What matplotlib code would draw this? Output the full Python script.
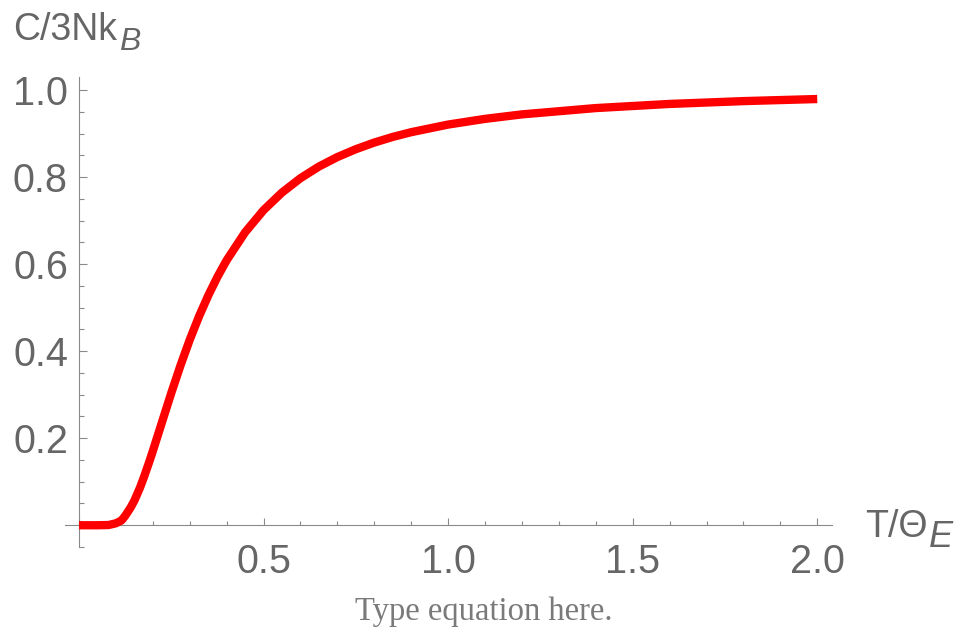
import matplotlib
matplotlib.use("Agg")
import matplotlib.pyplot as plt
from matplotlib.ticker import MultipleLocator, FixedLocator

# reduced temperature T/Theta_E and heat capacity C/3Nk_B
t_vals = [0.0, 0.05, 0.08, 0.1, 0.115, 0.125, 0.14, 0.15, 0.165, 0.175, 0.19, 0.2,
          0.225, 0.25, 0.275, 0.3, 0.325, 0.35, 0.375, 0.4, 0.45, 0.5, 0.55,
          0.6, 0.65, 0.7, 0.75, 0.8, 0.85, 0.9, 1.0, 1.1, 1.2, 1.4, 1.6, 1.8, 2.0]
c_vals = [0.0, 0.0, 0.0005, 0.0045, 0.011, 0.0215, 0.041, 0.0567, 0.086, 0.1085, 0.145, 0.1707,
          0.2375, 0.3041, 0.3674, 0.4263, 0.4797, 0.5277, 0.5707, 0.6089, 0.6732, 0.7241, 0.7646,
          0.7975, 0.8243, 0.8461, 0.8641, 0.8794, 0.8923, 0.9032, 0.9207, 0.9338, 0.9441, 0.9586, 0.9681, 0.9746, 0.9794]

x_ticks = [0.5, 1.0, 1.5, 2.0]
y_ticks = [0.2, 0.4, 0.6, 0.8, 1.0]

grey = "#666666"
axis_grey = "#8a8a8a"
plt.rcParams["font.family"] = ["Liberation Sans", "DejaVu Sans"]

fig = plt.figure(figsize=(9.61, 6.33), dpi=100)
ax = fig.add_axes([65 / 961, 86 / 633, 767 / 961, 470 / 633])
ax.set_xlim(-0.038, 2.04)
ax.set_ylim(-0.05, 1.03)

ax.plot(t_vals, c_vals, color="#ff0000", lw=6.0, solid_capstyle="butt", zorder=5, clip_on=False)

for s in ["top", "right"]:
    ax.spines[s].set_visible(False)
ax.spines["left"].set_position(("data", 0))
ax.spines["bottom"].set_position(("data", 0))
for s in ["left", "bottom"]:
    ax.spines[s].set_color(axis_grey)
    ax.spines[s].set_linewidth(0.8)

ax.xaxis.set_major_locator(FixedLocator([0.0] + x_ticks))
ax.xaxis.set_minor_locator(MultipleLocator(0.1))
ax.set_xticklabels([""] + ["%.1f" % v for v in x_ticks])
ax.yaxis.set_major_locator(FixedLocator([0.0] + y_ticks))
ax.yaxis.set_minor_locator(FixedLocator([-0.05 + 0.05 * i for i in range(22)]))
ax.set_yticklabels([""] + ["%.1f" % v for v in y_ticks])

ax.tick_params(axis="x", which="major", direction="in", length=5.2, width=0.8, color=axis_grey,
               labelsize=28.5, labelcolor=grey, pad=13)
ax.tick_params(axis="x", which="minor", direction="in", length=3.2, width=0.8, color=axis_grey)
ax.tick_params(axis="y", which="major", direction="in", length=5.6, width=0.8, color=axis_grey,
               labelsize=28.5, labelcolor=grey, pad=8)
ax.tick_params(axis="y", which="minor", direction="in", length=3.6, width=0.8, color=axis_grey)

# axis labels with full-size italic subscripts, as in the reference
ylab = fig.text(13 / 961, 1 - 40 / 633, "C/3Nk", fontsize=27, color=grey, va="baseline", ha="left")
ax.annotate("B", xy=(1, 0), xycoords=ylab, xytext=(1.5, -6.5), textcoords="offset points",
            fontsize=23, style="italic", color=grey, va="bottom", ha="left", annotation_clip=False)
xlab = fig.text(865 / 961, 1 - 537 / 633, "T/\u0398", fontsize=27, color=grey, va="baseline", ha="left")
ax.annotate("E", xy=(1, 0), xycoords=xlab, xytext=(1, -7.5), textcoords="offset points",
            fontsize=26, style="italic", color=grey, va="bottom", ha="left", annotation_clip=False)

fig.text(484 / 961, 1 - 620 / 633, "Type equation here.", fontsize=23.5, color="#7a7a7a",
         family=["Liberation Serif", "DejaVu Serif"], ha="center", va="baseline")

fig.savefig("out.png", dpi=100)
